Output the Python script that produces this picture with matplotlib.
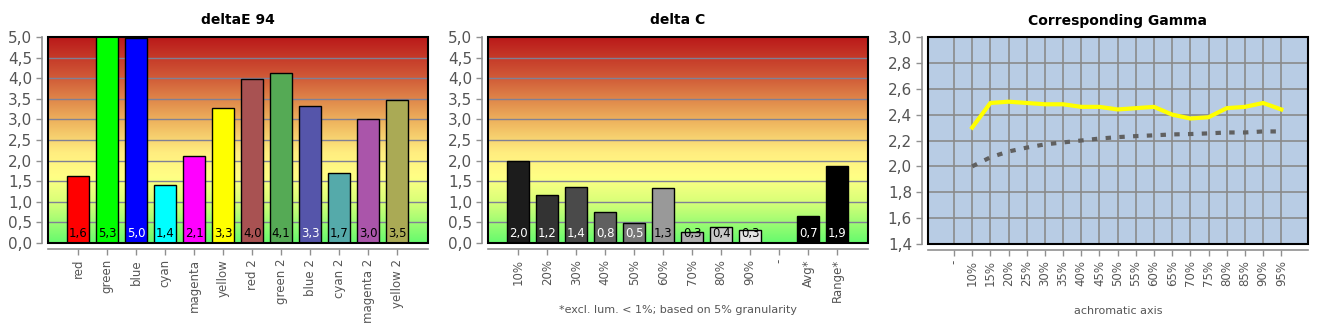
import numpy as np
import matplotlib.pyplot as plt
from matplotlib.colors import LinearSegmentedColormap
from matplotlib.patches import Rectangle

# --- data ---
de_cats = ["red", "green", "blue", "cyan", "magenta", "yellow",
           "red 2", "green 2", "blue 2", "cyan 2", "magenta 2", "yellow 2"]
de_vals = [1.62, 5.3, 4.97, 1.40, 2.12, 3.28, 3.99, 4.13, 3.33, 1.69, 3.02, 3.46]
de_colors = ["#ff0000", "#00ff00", "#0000ff", "#00ffff", "#ff00ff", "#ffff00",
             "#a85252", "#55aa55", "#5555aa", "#55aaaa", "#aa55aa", "#aaaa55"]
de_txt = ["black", "black", "white", "black", "black", "black",
          "black", "black", "white", "black", "black", "black"]

dc_cats = ["10%", "20%", "30%", "40%", "50%", "60%", "70%", "80%", "90%", "-", "Avg*", "Range*"]
dc_vals = [2.0, 1.17, 1.36, 0.76, 0.49, 1.33, 0.26, 0.39, 0.31, None, 0.66, 1.86]
dc_colors = ["#1c1c1c", "#333333", "#4a4a4a", "#606060", "#777777", "#999999",
             "#b0b0b0", "#c8c8c8", "#e4e4e4", "#ffffff", "#000000", "#000000"]
dc_txt = ["white", "white", "white", "white", "white", "black",
          "black", "black", "black", "black", "white", "white"]

gm_cats = ["-", "10%", "15%", "20%", "25%", "30%", "35%", "40%", "45%", "50%",
           "55%", "60%", "65%", "70%", "75%", "80%", "85%", "90%", "95%"]
gm_measured = [None, 2.30, 2.49, 2.50, 2.49, 2.48, 2.48, 2.46, 2.46, 2.44,
               2.45, 2.46, 2.40, 2.37, 2.38, 2.45, 2.46, 2.49, 2.44]
gm_target = [None, 2.00, 2.07, 2.115, 2.145, 2.17, 2.185, 2.20, 2.215, 2.226,
             2.234, 2.24, 2.247, 2.25, 2.255, 2.262, 2.262, 2.27, 2.27]

W, H = 1330, 330
fig = plt.figure(figsize=(W / 100, H / 100), dpi=100)
plt.rcParams['font.family'] = ['DejaVu Sans']

TICKC = "#555555"
grad = LinearSegmentedColormap.from_list("bg", [
    (0.0, (0.40, 0.98, 0.43)),
    (0.2, (0.85, 1.00, 0.47)),
    (0.32, (1.00, 1.00, 0.52)),
    (0.44, (1.00, 0.93, 0.50)),
    (0.6, (0.93, 0.69, 0.36)),
    (0.8, (0.82, 0.36, 0.22)),
    (1.0, (0.73, 0.10, 0.10)),
])


def px_axes(x0, y0, x1, y1):
    return fig.add_axes([x0 / W, 1 - y1 / H, (x1 - x0) / W, (y1 - y0) / H])


def style_axes(ax):
    for s in ["top", "right"]:
        ax.spines[s].set_visible(False)
    for s in ["left", "bottom"]:
        ax.spines[s].set_position(("outward", 4))
        ax.spines[s].set_color("#909090")
        ax.spines[s].set_linewidth(1.2)
    ax.tick_params(colors="#909090", labelcolor=TICKC, length=4, width=1)
    ax.tick_params(axis="y", labelsize=11)
    ax.tick_params(axis="x", labelsize=8.5, rotation=90)
    ax.add_patch(Rectangle((0, 0), 1, 1, transform=ax.transAxes, fill=False,
                           ec="black", lw=1.5, zorder=5, clip_on=False))


def bar_panel(ax, cats, vals, colors, txt, title):
    x = np.arange(len(cats))
    ax.set_xlim(-1.04, len(cats) + 0.06)
    ax.set_ylim(0, 5)
    ax.imshow(np.linspace(0, 1, 256).reshape(-1, 1), cmap=grad, origin="lower",
              extent=[-1.04, len(cats) + 0.06, 0, 5], aspect="auto", zorder=0)
    for yv in np.arange(0.5, 5.0, 0.5):
        ax.axhline(yv, color="#7f8096", lw=1, zorder=1)
    for i, v in enumerate(vals):
        if v is None:
            continue
        ax.bar(x[i], v, width=0.76, color=colors[i], edgecolor="black",
               lw=1, zorder=2)
        ax.text(x[i], 0.07, f"{v:.1f}".replace(".", ","), ha="center",
                va="bottom", fontsize=8.5, color=txt[i], zorder=3)
    ax.set_xticks(x)
    ax.set_xticklabels(cats)
    ax.set_yticks(np.arange(0, 5.01, 0.5))
    ax.set_yticklabels([f"{t:.1f}".replace(".", ",") for t in np.arange(0, 5.01, 0.5)])
    style_axes(ax)
    ax.set_title(title, fontsize=10, fontweight="bold", pad=9)


ax1 = px_axes(48, 37, 428, 243)
bar_panel(ax1, de_cats, de_vals, de_colors, de_txt, "deltaE 94")

ax2 = px_axes(488, 37, 868, 243)
bar_panel(ax2, dc_cats, dc_vals, dc_colors, dc_txt, "delta C")
ax2.text(0.5, -0.30, "*excl. lum. < 1%; based on 5% granularity", transform=ax2.transAxes,
         ha="center", va="top", fontsize=8, color=TICKC)

ax3 = px_axes(928, 37, 1308, 244)
xg = np.arange(len(gm_cats))
ax3.set_facecolor("#b8cce4")
ax3.set_xlim(-1.43, len(gm_cats) - 1 + 1.47)
ax3.set_ylim(1.4, 3.0)
ax3.set_yticks(np.arange(1.4, 3.01, 0.2))
ax3.set_yticklabels([f"{t:.1f}".replace(".", ",") for t in np.arange(1.4, 3.01, 0.2)])
ax3.set_xticks(xg)
ax3.set_xticklabels(gm_cats)
ax3.grid(True, color="#8a8a8a", lw=1.2)
ax3.set_axisbelow(True)
m = np.array([np.nan if v is None else v for v in gm_measured])
t = np.array([np.nan if v is None else v for v in gm_target])
ax3.plot(xg, t, color="#606060", lw=3, dashes=(1.3, 2.0), zorder=3)
ax3.plot(xg, m, color="#ffff00", lw=3, zorder=4)
style_axes(ax3)
ax3.set_title("Corresponding Gamma", fontsize=10, fontweight="bold", pad=9)
ax3.text(0.5, -0.30, "achromatic axis", transform=ax3.transAxes,
         ha="center", va="top", fontsize=8, color=TICKC)

fig.savefig("out.png", dpi=100)
